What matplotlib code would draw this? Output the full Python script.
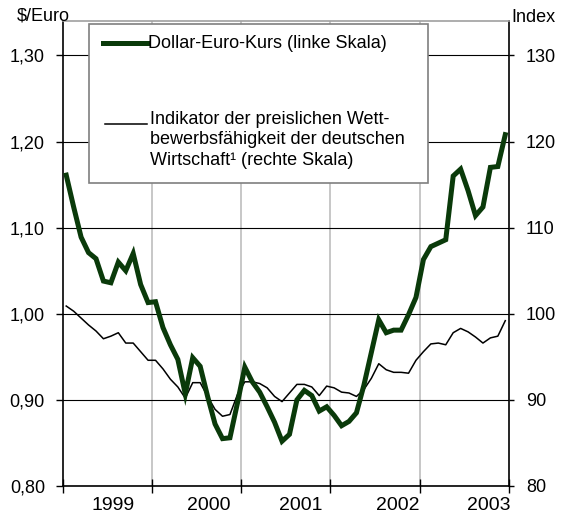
import numpy as np
import matplotlib.pyplot as plt
from matplotlib.patches import Rectangle
from matplotlib.ticker import FuncFormatter

plt.rcParams['font.family'] = ['Liberation Sans', 'DejaVu Sans']

# -----------------------------
# Data (monthly, Jan 1999 - Dec 2003)
# -----------------------------
years = ["1999", "2000", "2001", "2002", "2003"]

rate = [  # Dollar-Euro-Kurs, left scale
    1.161, 1.124, 1.089, 1.071, 1.064, 1.038, 1.036, 1.060, 1.050, 1.070, 1.034, 1.013,
    1.014, 0.984, 0.964, 0.947, 0.907, 0.949, 0.939, 0.904, 0.872, 0.855, 0.856, 0.896,
    0.938, 0.921, 0.909, 0.892, 0.874, 0.852, 0.860, 0.900, 0.911, 0.905, 0.887, 0.892,
    0.882, 0.870, 0.875, 0.885, 0.917, 0.955, 0.993, 0.978, 0.981, 0.981, 0.999, 1.019,
    1.063, 1.078, 1.082, 1.086, 1.160, 1.168, 1.143, 1.114, 1.124, 1.170, 1.171, 1.208,
]

index = [  # Indikator der preislichen Wettbewerbsfaehigkeit, right scale
    100.9, 100.3, 99.5, 98.7, 98.0, 97.1, 97.4, 97.8, 96.6, 96.6, 95.6, 94.6,
    94.6, 93.6, 92.4, 91.5, 90.2, 92.0, 92.0, 90.4, 88.9, 88.1, 88.3, 90.6,
    92.1, 92.1, 91.9, 91.4, 90.4, 89.8, 90.8, 91.8, 91.8, 91.5, 90.5, 91.6,
    91.4, 90.9, 90.8, 90.4, 91.2, 92.5, 94.2, 93.5, 93.2, 93.2, 93.1, 94.6,
    95.6, 96.5, 96.6, 96.4, 97.8, 98.3, 97.9, 97.3, 96.6, 97.2, 97.4, 99.2,
]

left_ticks = [0.80, 0.90, 1.00, 1.10, 1.20, 1.30]
right_ticks = [80, 90, 100, 110, 120, 130]

label_rate = "Dollar-Euro-Kurs (linke Skala)"
label_index = ("Indikator der preislichen Wett-\n"
               "bewerbsfähigkeit der deutschen\n"
               "Wirtschaft\u00b9 (rechte Skala)")

months = np.arange(len(rate)) + 0.5
year_bounds = [12, 24, 36, 48]
year_label_pos = [6.8, 19.6, 32.0, 45.0, 57.3]

GREEN = "#0a3a0a"

# -----------------------------
# Figure / axes in pixel layout
# -----------------------------
W, H = 561, 518
fig = plt.figure(figsize=(W / 100, H / 100), dpi=100)
L, R, T, B = 62.5, 509.0, 21.0, 486.0
ax = fig.add_axes([L / W, 1 - B / H, (R - L) / W, (B - T) / H])
ax2 = ax.twinx()
ax.set_zorder(2)
ax2.set_zorder(1)
ax.patch.set_visible(False)


def axfrac(x, y):
    return (x - L) / (R - L), (B - y) / (B - T)


# right scale: index (drawn behind)
ax2.plot(months, index, color="black", lw=1.1, zorder=3)
ax2.set_ylim(80, 134)
ax2.set_yticks(right_ticks)
ax2.grid(axis="y", color="black", lw=0.8)
for xb in year_bounds:
    ax2.axvline(xb, color="#bdbdbd", lw=1.2, zorder=1)
for s in ax2.spines.values():
    s.set_visible(False)
ax2.tick_params(axis="y", direction="out", length=3.6, width=1.0, pad=8.6, labelsize=13)

# left scale: exchange rate
ax.plot(months, rate, color=GREEN, lw=3.6, solid_joinstyle="miter", zorder=3)
ax.set_xlim(0, 60)
ax.set_ylim(0.80, 1.34)
ax.set_yticks(left_ticks)
ax.yaxis.set_major_formatter(FuncFormatter(lambda v, p: f"{v:.2f}".replace(".", ",")))
ax.tick_params(axis="y", direction="out", length=5.4, width=1.0, pad=7.2, labelsize=13)

ax.set_xticks([0] + year_bounds + [60])
ax.set_xticklabels([])
ax.tick_params(axis="x", which="major", direction="inout", length=9.4, width=1.0)
ax.set_xticks(year_label_pos, minor=True)
ax.set_xticklabels(years, minor=True)
ax.tick_params(axis="x", which="minor", length=0, pad=8, labelsize=14)

for side in ["left", "right", "bottom"]:
    ax.spines[side].set_color("black")
    ax.spines[side].set_linewidth(1.2)
ax.spines["top"].set_color("#a0a0a0")
ax.spines["top"].set_linewidth(1.2)

# axis unit labels
fig.text(70 / W, 1 - 16 / H, "$/Euro", ha="right", va="center", fontsize=13)
fig.text(511 / W, 1 - 17 / H, "Index", ha="left", va="center", fontsize=13)

# -----------------------------
# Legend box (drawn by hand)
# -----------------------------
x0, y0 = axfrac(89, 183)
x1, y1 = axfrac(428, 24)
ax.add_patch(Rectangle((x0, y0), x1 - x0, y1 - y0, transform=ax.transAxes,
                       facecolor="white", edgecolor="#7f7f7f", lw=1.2,
                       zorder=10, clip_on=False))

ax.plot(*zip(axfrac(103, 43), axfrac(147, 43)), transform=ax.transAxes,
        color=GREEN, lw=3.6, zorder=11, clip_on=False)
ax.text(*axfrac(148, 43), label_rate, transform=ax.transAxes,
        ha="left", va="center", fontsize=13, zorder=11)

ax.plot(*zip(axfrac(105, 124), axfrac(147, 124)), transform=ax.transAxes,
        color="black", lw=1.1, zorder=11, clip_on=False)
ax.text(*axfrac(150, 140), label_index, transform=ax.transAxes,
        ha="left", va="center", fontsize=13, linespacing=1.28, zorder=11)

fig.savefig("out.png", dpi=100, facecolor="white")
